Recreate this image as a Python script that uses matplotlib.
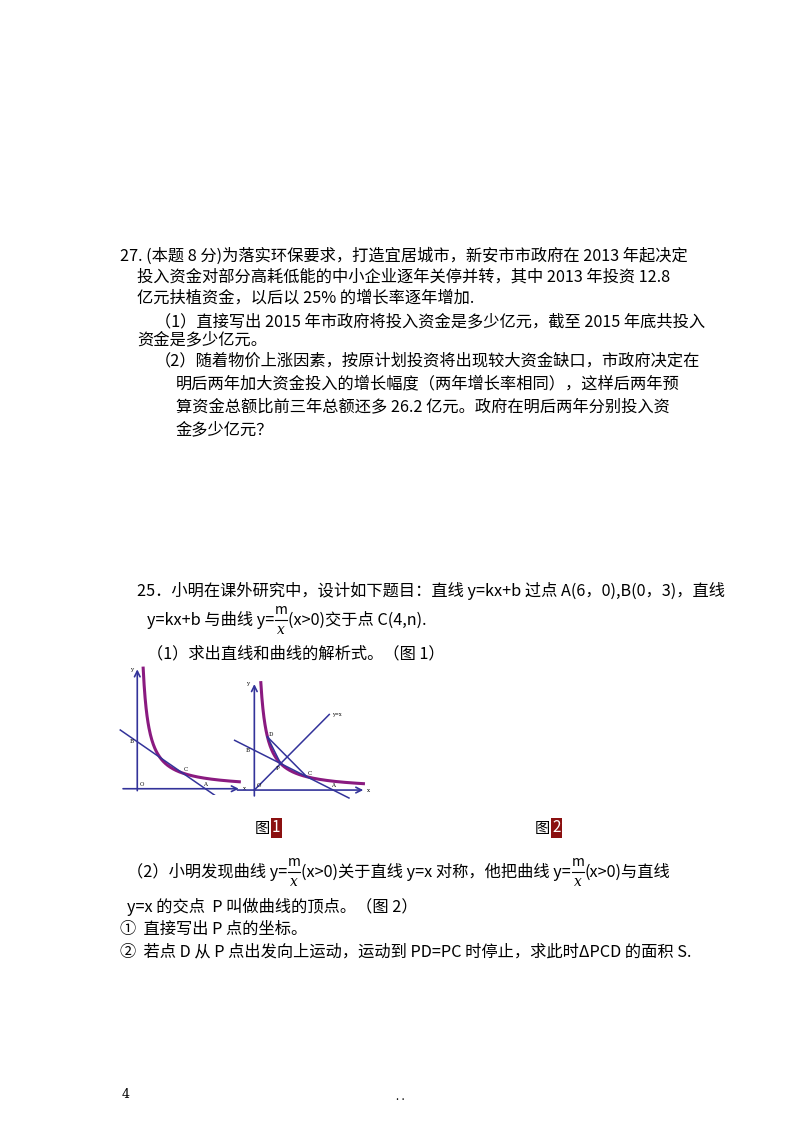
import numpy as np
import matplotlib
matplotlib.use("Agg")
import matplotlib.pyplot as plt

plt.rcParams["font.family"] = ["Noto Sans CJK SC", "DejaVu Sans"]

W, H = 800, 1132

# curve y = m/x and line y = kx + b
m = 4
k, b = -0.5, 3
pts_1 = {"B": (0, 3), "C": (4, 1), "A": (6, 0), "O": (0, 0)}
pts_2 = {"B": (0, 3), "C": (4, 1), "A": (6, 0), "O": (0, 0), "D": (1, 4), "P": (2, 2)}

text_lines = [
    (120, 256, "27. (本题 8 分)为落实环保要求，打造宜居城市，新安市市政府在 2013 年起决定"),
    (137, 277, "投入资金对部分高耗低能的中小企业逐年关停并转，其中 2013 年投资 12.8"),
    (137, 298, "亿元扶植资金，以后以 25% 的增长率逐年增加."),
    (155, 322, "（1）直接写出 2015 年市政府将投入资金是多少亿元，截至 2015 年底共投入"),
    (137, 340, "资金是多少亿元。"),
    (155, 361, "（2）随着物价上涨因素，按原计划投资将出现较大资金缺口，市政府决定在"),
    (176, 384, "明后两年加大资金投入的增长幅度（两年增长率相同），这样后两年预"),
    (176, 407, "算资金总额比前三年总额还多 26.2 亿元。政府在明后两年分别投入资"),
    (176, 430, "金多少亿元？"),
    (137, 591, "25．小明在课外研究中，设计如下题目：直线 y=kx+b 过点 A(6，0),B(0，3)，直线"),
    (147, 654, "（1）求出直线和曲线的解析式。（图 1）"),
    (127, 907, "y=x 的交点  P 叫做曲线的顶点。（图 2）"),
    (120, 929, "①  直接写出 P 点的坐标。"),
    (120, 952, "②  若点 D 从 P 点出发向上运动，运动到 PD=PC 时停止，求此时ΔPCD 的面积 S."),
]

fig = plt.figure(figsize=(W / 100, H / 100), dpi=100)
fig.patch.set_facecolor("white")
renderer = fig.canvas.get_renderer()
FS = 11.7


def put(x, y, s, size=FS, **kw):
    t = fig.text(x / W, 1 - y / H, s, fontsize=size, va="center", ha="left", **kw)
    return t.get_window_extent(renderer).x1


def put_frac(x, y):
    fx = x + 7
    fig.text(fx / W, 1 - (y - 10) / H, "m", fontsize=10, ha="center", va="center")
    fig.add_artist(plt.Line2D([(fx - 6) / W, (fx + 6) / W], [1 - y / H] * 2, color="black", lw=0.8))
    fig.text(fx / W, 1 - (y + 10) / H, "x", fontsize=10, ha="center", va="center", style="italic",
             family="DejaVu Serif")
    return x + 14


def put_pieces(x, y, pieces):
    for p in pieces:
        if p is None:
            x = put_frac(x, y)
        else:
            x = put(x, y, p)


for x, y, s in text_lines:
    put(x, y, s)

put_pieces(147, 620, ["y=kx+b 与曲线 y=", None, "(x>0)交于点 C(4,n)."])
put_pieces(127, 872, ["（2）小明发现曲线 y=", None, "(x>0)关于直线 y=x 对称，他把曲线 y=", None,
                      "(x>0)与直线"])

# figure captions
put(255, 828, "图", size=11)
put(272, 828, "1", size=11, color="white", bbox=dict(facecolor="#8b1010", edgecolor="none", pad=1))
put(535, 828, "图", size=11)
put(552, 828, "2", size=11, color="white", bbox=dict(facecolor="#8b1010", edgecolor="none", pad=1))

put(122, 1095, "4", size=9, family="DejaVu Serif")
put(396, 1097, ". .", size=8)

blue = "#33339a"
purple = "#8a1a80"


def graph(box, xlim, ylim, pts, second=False):
    x0, y0, x1, y1 = box
    ax = fig.add_axes([x0 / W, 1 - y1 / H, (x1 - x0) / W, (y1 - y0) / H])
    ax.set_xlim(*xlim)
    ax.set_ylim(*ylim)
    ax.axis("off")
    ax.annotate("", xy=(xlim[1] - 0.3, 0), xytext=(xlim[0] + 0.2, 0),
                arrowprops=dict(arrowstyle="->", color=blue, lw=1.2))
    ax.annotate("", xy=(0, ylim[1] - 0.1), xytext=(0, ylim[0] + 0.1),
                arrowprops=dict(arrowstyle="->", color=blue, lw=1.2))
    xs = np.linspace(m / (ylim[1] - 0.2), xlim[1] - 0.5, 200)
    ax.plot(xs, m / xs, color=purple, lw=2.2)
    lx = np.array([xlim[0] + 0.2, 7.2])
    ax.plot(lx, k * lx + b, color=blue, lw=1.1)
    fs = 4
    ax.text(xlim[1] - 0.2, 0, "x", fontsize=fs, va="center", family="DejaVu Serif")
    ax.text(-0.6, ylim[1] - 0.4, "y", fontsize=fs, family="DejaVu Serif")
    ax.text(pts["B"][0] - 0.7, pts["B"][1] - 0.1, "B", fontsize=fs, family="DejaVu Serif")
    ax.text(pts["C"][0] + 0.1, pts["C"][1] + 0.15, "C", fontsize=fs, family="DejaVu Serif")
    ax.text(pts["A"][0] - 0.2, pts["A"][1] + 0.2, "A", fontsize=fs, family="DejaVu Serif")
    ax.text(0.2, 0.2, "O", fontsize=fs, family="DejaVu Serif")
    if second:
        D, P, C = pts["D"], pts["P"], pts["C"]
        ax.plot([D[0], C[0]], [D[1], C[1]], color=blue, lw=1.1)
        ax.plot([D[0], P[0]], [D[1], P[1]], color=blue, lw=1.1)
        ax.plot([0, 5.7], [0, 5.7], color=blue, lw=1.1)
        ax.text(5.9, 5.6, "y=x", fontsize=3.5, family="DejaVu Serif")
        ax.text(D[0] + 0.05, D[1] + 0.1, "D", fontsize=fs, family="DejaVu Serif")
        ax.text(P[0] - 0.4, P[1] - 0.5, "P", fontsize=fs, family="DejaVu Serif")


graph((118, 665, 245, 795), (-1.7, 9.5), (-0.4, 7.9), pts_1)
graph((232, 680, 370, 800), (-1.7, 8.8), (-0.75, 8.3), pts_2, second=True)

fig.savefig("out.png", dpi=100, facecolor="white")
